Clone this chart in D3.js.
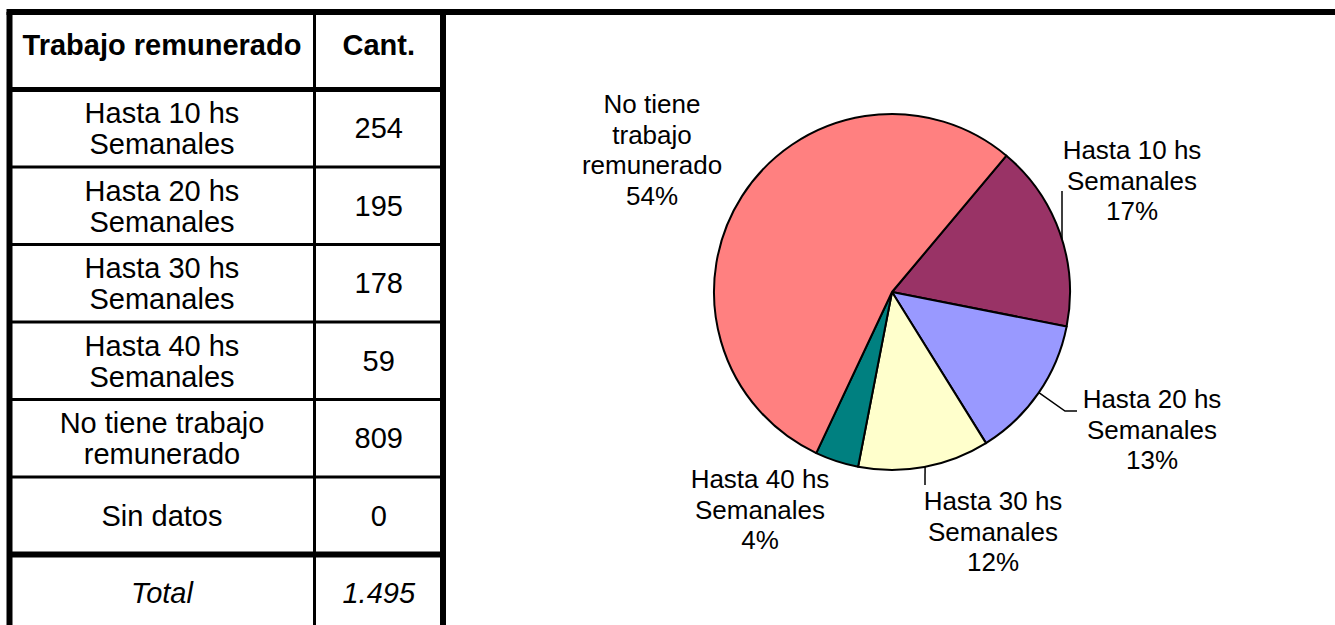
<!DOCTYPE html>
<html>
<head>
<meta charset="utf-8">
<script src="https://cdn.jsdelivr.net/npm/d3@7"></script>
<style>
  body { margin: 0; background: #fff; }
  text { font-family: Arial, "Liberation Sans", sans-serif; fill: #000; }
</style>
</head>
<body>
<div id="chart"></div>
<script>
// data
const categories = [
    "Hasta 10 hs Semanales",
    "Hasta 20 hs Semanales",
    "Hasta 30 hs Semanales",
    "Hasta 40 hs Semanales",
    "No tiene trabajo remunerado",
    "Sin datos"
];
const counts = [254, 195, 178, 59, 809, 0];
const headers = ["Trabajo remunerado", "Cant."];
const totalLabel = "Total";

// slice colours (same order as categories)
const sliceColors = ["#993366", "#9999FF", "#FFFFCC", "#008080", "#FF8080", "#C0C0C0"];

const width = 1335, height = 625;

const svg = d3.select("#chart")
    .append("svg")
    .attr("width", width)
    .attr("height", height);

svg.append("rect")
    .attr("width", width)
    .attr("height", height)
    .attr("fill", "#fff");

const esLocale = d3.formatLocale({decimal: ",", thousands: ".", grouping: [3], currency: ["$", ""]});
const fmtNum = esLocale.format(",d");
const fmtPct = d3.format(".0%");
const total = d3.sum(counts);

// break a string into lines that fit maxWidth
function wrapLines(str, maxWidth, fontSize, weight) {
    const probe = svg.append("text")
        .style("font-size", fontSize + "px")
        .style("font-weight", weight || "normal");
    const lines = [];
    let line = [];
    str.split(" ").forEach(w => {
        probe.text(line.concat(w).join(" "));
        if (probe.node().getComputedTextLength() > maxWidth && line.length) {
            lines.push(line.join(" "));
            line = [w];
        } else {
            line.push(w);
        }
    });
    lines.push(line.join(" "));
    probe.remove();
    return lines;
}

// ---------- table ----------
const tableLeft = 9.5, colSplit = 314.5, tableRight = 443;
const tableFont = 29;
const rowKeys = ["header", ...categories, "total"];
const yRow = d3.scaleBand()
    .domain(rowKeys)
    .range([12, 632]);

const col1 = (tableLeft + colSplit) / 2;
const col2 = (colSplit + tableRight) / 2;

const tableRows = [
    {key: "header", cells: headers, weight: "bold", style: "normal"},
    ...categories.map((c, i) => ({key: c, cells: [c, fmtNum(counts[i])], weight: "normal", style: "normal"})),
    {key: "total", cells: [totalLabel, fmtNum(total)], weight: "normal", style: "italic"}
];

const table = svg.append("g").attr("class", "table");

tableRows.forEach(row => {
    const top = yRow(row.key);
    row.cells.forEach((cell, ci) => {
        const lines = ci === 0 ? wrapLines(cell, 280, tableFont, row.weight) : [cell];
        const first = row.key === "header"
            ? top + 43
            : top + 48.5 - (lines.length - 1) * 15;
        const t = table.append("text")
            .attr("x", ci === 0 ? col1 : col2)
            .attr("text-anchor", "middle")
            .style("font-size", tableFont + "px")
            .style("font-weight", row.weight)
            .style("font-style", row.style);
        lines.forEach((ln, li) => {
            t.append("tspan")
                .attr("x", ci === 0 ? col1 : col2)
                .attr("y", first + li * 31)
                .text(ln);
        });
    });
});

// horizontal rules between rows
rowKeys.slice(1).forEach(k => {
    const w = k === "total" ? 6 : (k === categories[0] ? 5 : 3);
    table.append("line")
        .attr("x1", tableLeft).attr("x2", tableRight)
        .attr("y1", yRow(k)).attr("y2", yRow(k))
        .attr("stroke", "#000")
        .attr("stroke-width", w);
});

// verticals
[[tableLeft, 6], [colSplit, 3], [tableRight, 6]].forEach(([xv, w]) => {
    table.append("line")
        .attr("x1", xv).attr("x2", xv)
        .attr("y1", 12).attr("y2", height)
        .attr("stroke", "#000")
        .attr("stroke-width", w);
});

// top rule across the whole page
table.append("line")
    .attr("x1", 6.5).attr("x2", width)
    .attr("y1", 12).attr("y2", 12)
    .attr("stroke", "#000")
    .attr("stroke-width", 6);

// ---------- pie ----------
const cx = 892, cy = 292, radius = 178;
const start = 40 * Math.PI / 180;

const pieData = categories
    .map((c, i) => ({label: c, value: counts[i], color: sliceColors[i]}))
    .filter(d => d.value > 0);

const pie = d3.pie()
    .sort(null)
    .value(d => d.value)
    .startAngle(start)
    .endAngle(start + 2 * Math.PI);

const arc = d3.arc()
    .innerRadius(0)
    .outerRadius(radius);

const g = svg.append("g")
    .attr("transform", "translate(" + cx + "," + cy + ")");

g.selectAll("path")
    .data(pie(pieData))
    .enter()
    .append("path")
    .attr("d", arc)
    .attr("fill", d => d.data.color)
    .attr("stroke", "#000")
    .attr("stroke-width", 2)
    .attr("stroke-linejoin", "round");

// label placement (relative to pie centre), leader lines start on the rim
const labelLayout = {
    "Hasta 10 hs Semanales": {dx: 240, dy: -133, rim: 72.8, leader: [[170, -101]]},
    "Hasta 20 hs Semanales": {dx: 260, dy: 116, rim: 124.4, leader: [[173, 119], [185, 119]]},
    "Hasta 30 hs Semanales": {dx: 101, dy: 218, rim: 169.3, leader: [[33, 193]]},
    "Hasta 40 hs Semanales": {dx: -132, dy: 196},
    "No tiene trabajo remunerado": {dx: -240, dy: -179}
};

const pieFont = 26;
const lineStep = 30.7;

pie(pieData).forEach(d => {
    const lay = labelLayout[d.data.label];
    const lines = wrapLines(d.data.label, 150, pieFont).concat(fmtPct(d.data.value / total));
    const t = g.append("text")
        .attr("text-anchor", "middle")
        .style("font-size", pieFont + "px");
    lines.forEach((ln, li) => {
        t.append("tspan")
            .attr("x", lay.dx)
            .attr("y", lay.dy + li * lineStep)
            .text(ln);
    });
    if (lay.leader) {
        const a = lay.rim * Math.PI / 180;
        const pts = [[radius * Math.sin(a), -radius * Math.cos(a)]].concat(lay.leader);
        g.append("path")
            .attr("d", d3.line()(pts))
            .attr("fill", "none")
            .attr("stroke", "#000")
            .attr("stroke-width", 1.5);
    }
});
</script>
</body>
</html>
